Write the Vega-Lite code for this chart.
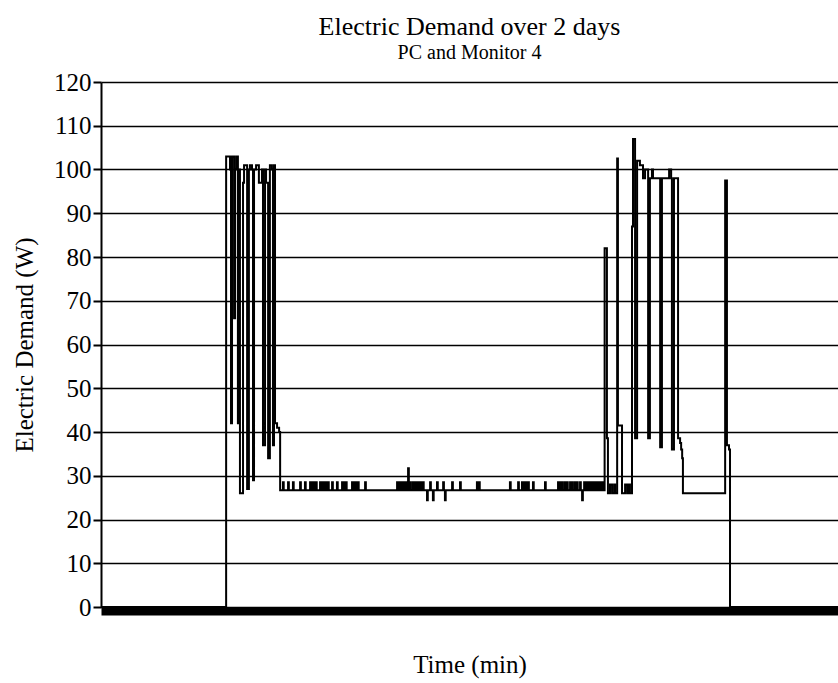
{
  "$schema": "https://vega.github.io/schema/vega-lite/v6.json",
  "width": 737,
  "height": 525,
  "autosize": {"type": "none"},
  "padding": {"left": 101, "top": 82, "right": 0, "bottom": 76},
  "background": "white",
  "title": {
    "text": "Electric Demand over 2 days",
    "subtitle": "PC and Monitor 4",
    "font": "Liberation Serif",
    "fontSize": 26,
    "fontWeight": "normal",
    "color": "black",
    "subtitleFont": "Liberation Serif",
    "subtitleFontSize": 20,
    "subtitleColor": "black",
    "subtitlePadding": 3,
    "anchor": "middle",
    "offset": 7
  },
  "config": {
    "view": {"stroke": null},
    "axis": {"labelFont": "Liberation Serif", "titleFont": "Liberation Serif", "labelColor": "black", "titleColor": "black"}
  },
  "data": {
    "values": [
      {"minute": 0, "watts": 0},
      {"minute": 489, "watts": 103},
      {"minute": 504, "watts": 100},
      {"minute": 508, "watts": 42},
      {"minute": 512, "watts": 103},
      {"minute": 520, "watts": 66},
      {"minute": 524, "watts": 100},
      {"minute": 528, "watts": 103},
      {"minute": 535, "watts": 42},
      {"minute": 539, "watts": 100},
      {"minute": 543, "watts": 26},
      {"minute": 555, "watts": 97},
      {"minute": 559, "watts": 101},
      {"minute": 571, "watts": 27},
      {"minute": 578, "watts": 100},
      {"minute": 582, "watts": 101},
      {"minute": 590, "watts": 100},
      {"minute": 594, "watts": 29},
      {"minute": 598, "watts": 100},
      {"minute": 606, "watts": 101},
      {"minute": 617, "watts": 97},
      {"minute": 629, "watts": 100},
      {"minute": 633, "watts": 37},
      {"minute": 641, "watts": 100},
      {"minute": 645, "watts": 97},
      {"minute": 653, "watts": 34},
      {"minute": 660, "watts": 101},
      {"minute": 668, "watts": 100},
      {"minute": 672, "watts": 37},
      {"minute": 676, "watts": 101},
      {"minute": 680, "watts": 42},
      {"minute": 688, "watts": 41},
      {"minute": 696, "watts": 40},
      {"minute": 700, "watts": 26.7},
      {"minute": 711, "watts": 28.5}, {"minute": 714, "watts": 26.7},
      {"minute": 731, "watts": 28.5}, {"minute": 734, "watts": 26.7},
      {"minute": 750, "watts": 28.5}, {"minute": 753, "watts": 26.7},
      {"minute": 778, "watts": 28.5}, {"minute": 781, "watts": 26.7},
      {"minute": 797, "watts": 28.5}, {"minute": 800, "watts": 26.7},
      {"minute": 817, "watts": 28.5}, {"minute": 820, "watts": 26.7},
      {"minute": 825, "watts": 28.5}, {"minute": 828, "watts": 26.7},
      {"minute": 832, "watts": 28.5}, {"minute": 835, "watts": 26.7},
      {"minute": 840, "watts": 28.5}, {"minute": 843, "watts": 26.7},
      {"minute": 856, "watts": 28.5}, {"minute": 859, "watts": 26.7},
      {"minute": 864, "watts": 28.5}, {"minute": 867, "watts": 26.7},
      {"minute": 872, "watts": 28.5}, {"minute": 875, "watts": 26.7},
      {"minute": 879, "watts": 28.5}, {"minute": 882, "watts": 26.7},
      {"minute": 887, "watts": 28.5}, {"minute": 890, "watts": 26.7},
      {"minute": 903, "watts": 28.5}, {"minute": 906, "watts": 26.7},
      {"minute": 922, "watts": 28.5}, {"minute": 925, "watts": 26.7},
      {"minute": 942, "watts": 28.5}, {"minute": 945, "watts": 26.7},
      {"minute": 950, "watts": 28.5}, {"minute": 953, "watts": 26.7},
      {"minute": 957, "watts": 28.5}, {"minute": 960, "watts": 26.7},
      {"minute": 981, "watts": 28.5}, {"minute": 984, "watts": 26.7},
      {"minute": 989, "watts": 28.5}, {"minute": 992, "watts": 26.7},
      {"minute": 997, "watts": 28.5}, {"minute": 1000, "watts": 26.7},
      {"minute": 1004, "watts": 28.5}, {"minute": 1007, "watts": 26.7},
      {"minute": 1032, "watts": 28.5}, {"minute": 1035, "watts": 26.7},
      {"minute": 1157, "watts": 28.5}, {"minute": 1160, "watts": 26.7},
      {"minute": 1165, "watts": 28.5}, {"minute": 1168, "watts": 26.7},
      {"minute": 1172, "watts": 28.5}, {"minute": 1175, "watts": 26.7},
      {"minute": 1180, "watts": 28.5}, {"minute": 1183, "watts": 26.7},
      {"minute": 1188, "watts": 28.5}, {"minute": 1191, "watts": 26.7},
      {"minute": 1196, "watts": 28.5}, {"minute": 1198, "watts": 26.7},
      {"minute": 1200, "watts": 31.7}, {"minute": 1203, "watts": 26.7},
      {"minute": 1208, "watts": 28.5}, {"minute": 1211, "watts": 26.7},
      {"minute": 1219, "watts": 28.5}, {"minute": 1222, "watts": 26.7},
      {"minute": 1227, "watts": 28.5}, {"minute": 1230, "watts": 26.7},
      {"minute": 1235, "watts": 28.5}, {"minute": 1238, "watts": 26.7},
      {"minute": 1243, "watts": 28.5}, {"minute": 1246, "watts": 26.7},
      {"minute": 1250, "watts": 28.5}, {"minute": 1253, "watts": 26.7},
      {"minute": 1258, "watts": 28.5}, {"minute": 1261, "watts": 26.7},
      {"minute": 1274, "watts": 24.4}, {"minute": 1277, "watts": 26.7},
      {"minute": 1286, "watts": 28.5}, {"minute": 1289, "watts": 26.7},
      {"minute": 1297, "watts": 24.4}, {"minute": 1300, "watts": 26.7},
      {"minute": 1313, "watts": 28.5}, {"minute": 1316, "watts": 26.7},
      {"minute": 1337, "watts": 28.5}, {"minute": 1340, "watts": 26.7},
      {"minute": 1344, "watts": 24.4}, {"minute": 1347, "watts": 26.7},
      {"minute": 1372, "watts": 28.5}, {"minute": 1375, "watts": 26.7},
      {"minute": 1403, "watts": 28.5}, {"minute": 1406, "watts": 26.7},
      {"minute": 1469, "watts": 28.5}, {"minute": 1472, "watts": 26.7},
      {"minute": 1477, "watts": 28.5}, {"minute": 1480, "watts": 26.7},
      {"minute": 1598, "watts": 28.5}, {"minute": 1601, "watts": 26.7},
      {"minute": 1630, "watts": 28.5}, {"minute": 1633, "watts": 26.7},
      {"minute": 1645, "watts": 28.5}, {"minute": 1648, "watts": 26.7},
      {"minute": 1653, "watts": 28.5}, {"minute": 1656, "watts": 26.7},
      {"minute": 1661, "watts": 28.5}, {"minute": 1664, "watts": 26.7},
      {"minute": 1669, "watts": 28.5}, {"minute": 1672, "watts": 26.7},
      {"minute": 1688, "watts": 28.5}, {"minute": 1691, "watts": 26.7},
      {"minute": 1735, "watts": 28.5}, {"minute": 1738, "watts": 26.7},
      {"minute": 1786, "watts": 28.5}, {"minute": 1789, "watts": 26.7},
      {"minute": 1794, "watts": 28.5}, {"minute": 1797, "watts": 26.7},
      {"minute": 1802, "watts": 28.5}, {"minute": 1805, "watts": 26.7},
      {"minute": 1813, "watts": 28.5}, {"minute": 1816, "watts": 26.7},
      {"minute": 1821, "watts": 28.5}, {"minute": 1824, "watts": 26.7},
      {"minute": 1833, "watts": 28.5}, {"minute": 1836, "watts": 26.7},
      {"minute": 1841, "watts": 28.5}, {"minute": 1844, "watts": 26.7},
      {"minute": 1852, "watts": 28.5}, {"minute": 1855, "watts": 26.7},
      {"minute": 1860, "watts": 28.5}, {"minute": 1863, "watts": 26.7},
      {"minute": 1872, "watts": 28.5}, {"minute": 1875, "watts": 26.7},
      {"minute": 1880, "watts": 24.4}, {"minute": 1883, "watts": 26.7},
      {"minute": 1888, "watts": 28.5}, {"minute": 1891, "watts": 26.7},
      {"minute": 1895, "watts": 28.5}, {"minute": 1898, "watts": 26.7},
      {"minute": 1903, "watts": 28.5}, {"minute": 1906, "watts": 26.7},
      {"minute": 1911, "watts": 28.5}, {"minute": 1914, "watts": 26.7},
      {"minute": 1919, "watts": 28.5}, {"minute": 1922, "watts": 26.7},
      {"minute": 1927, "watts": 28.5}, {"minute": 1930, "watts": 26.7},
      {"minute": 1934, "watts": 28.5}, {"minute": 1937, "watts": 26.7},
      {"minute": 1942, "watts": 28.5}, {"minute": 1945, "watts": 26.7},
      {"minute": 1950, "watts": 28.5}, {"minute": 1953, "watts": 26.7},
      {"minute": 1958, "watts": 28.5}, {"minute": 1961, "watts": 26.7},
      {"minute": 1968, "watts": 82},
      {"minute": 1977, "watts": 38.6},
      {"minute": 1981, "watts": 26},
      {"minute": 1989, "watts": 28},
      {"minute": 1997, "watts": 26},
      {"minute": 2005, "watts": 28},
      {"minute": 2009, "watts": 26},
      {"minute": 2017, "watts": 102.5},
      {"minute": 2020, "watts": 41.5},
      {"minute": 2036, "watts": 26},
      {"minute": 2048, "watts": 28},
      {"minute": 2056, "watts": 26},
      {"minute": 2063, "watts": 28},
      {"minute": 2067, "watts": 26},
      {"minute": 2075, "watts": 87},
      {"minute": 2079, "watts": 107},
      {"minute": 2087, "watts": 38.6},
      {"minute": 2095, "watts": 102},
      {"minute": 2106, "watts": 101},
      {"minute": 2118, "watts": 98},
      {"minute": 2126, "watts": 100},
      {"minute": 2138, "watts": 38.6},
      {"minute": 2145, "watts": 98},
      {"minute": 2153, "watts": 100},
      {"minute": 2157, "watts": 98},
      {"minute": 2185, "watts": 36.5},
      {"minute": 2192, "watts": 98},
      {"minute": 2220, "watts": 100},
      {"minute": 2228, "watts": 98},
      {"minute": 2231, "watts": 36},
      {"minute": 2239, "watts": 98},
      {"minute": 2255, "watts": 38.6},
      {"minute": 2263, "watts": 37.5},
      {"minute": 2267, "watts": 36},
      {"minute": 2271, "watts": 34},
      {"minute": 2274, "watts": 26},
      {"minute": 2439, "watts": 97.5},
      {"minute": 2446, "watts": 37},
      {"minute": 2454, "watts": 36},
      {"minute": 2458, "watts": 0},
      {"minute": 2880, "watts": 0}
    ]
  },
  "mark": {"type": "line", "interpolate": "step-after", "color": "black", "strokeWidth": 2},
  "encoding": {
    "x": {
      "field": "minute",
      "type": "quantitative",
      "scale": {"domain": [0, 2880], "nice": false},
      "axis": {
        "title": "Time (min)",
        "titleFontSize": 25,
        "titleFontWeight": "normal",
        "titlePadding": 41,
        "labels": false,
        "ticks": false,
        "grid": false,
        "domainColor": "black",
        "domainWidth": 8,
        "offset": 4
      }
    },
    "y": {
      "field": "watts",
      "type": "quantitative",
      "scale": {"domain": [0, 120], "nice": false},
      "axis": {
        "title": "Electric Demand (W)",
        "titleFontSize": 25,
        "titleFontWeight": "normal",
        "titlePadding": 16,
        "values": [0, 10, 20, 30, 40, 50, 60, 70, 80, 90, 100, 110, 120],
        "labelFontSize": 25,
        "labelPadding": 2,
        "tickSize": 8,
        "tickWidth": 2,
        "tickColor": "black",
        "domainColor": "black",
        "domainWidth": 2,
        "grid": true,
        "gridColor": "black",
        "gridWidth": 1.5,
        "gridOpacity": 1
      }
    }
  }
}
